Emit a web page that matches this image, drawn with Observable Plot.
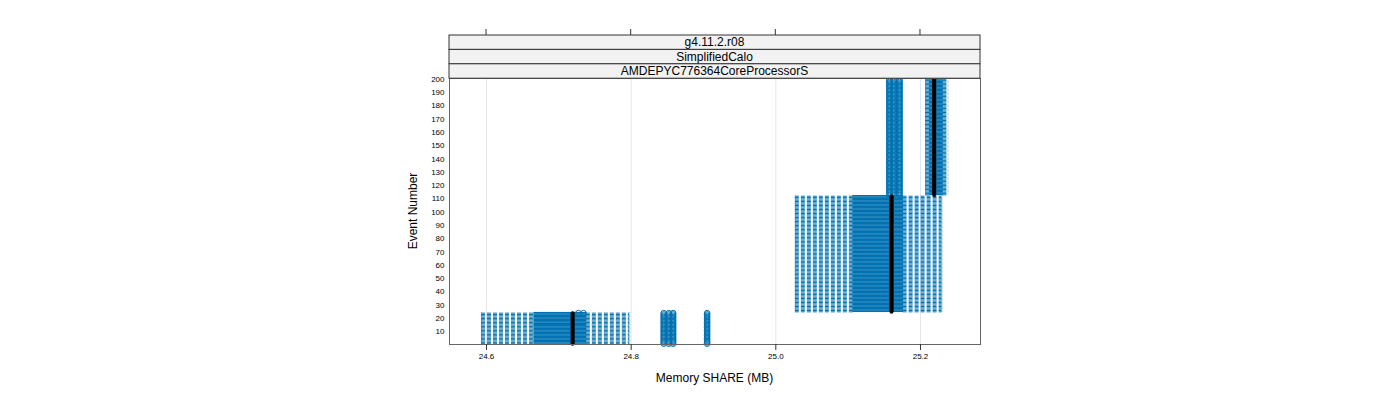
<!DOCTYPE html>
<html><head><meta charset="utf-8">
<script src="https://cdn.jsdelivr.net/npm/d3@7"></script>
<script src="https://cdn.jsdelivr.net/npm/@observablehq/plot@0.6"></script>
<style>
body{margin:0;background:#fff;}
#chart{width:1400px;height:400px;font-family:"Liberation Sans",Arial,sans-serif;}
</style>
</head><body><div id="chart"></div>
<script>
// ---- data ----
const stripLabels = ["g4.11.2.r08", "SimplifiedCalo", "AMDEPYC776364CoreProcessorS"];
const groupFirst = [1, 25, 113];
const groupLast = [24, 112, 200];
const whiskerLo = [24.593, 25.027, 25.207];
const q1 = [24.666, 25.107, 25.213];
const median = [24.719, 25.160, 25.219];
const q3 = [24.738, 25.176, 25.231];
const whiskerHi = [24.798, 25.230, 25.238];
// outliers: value shared by a range of events
const outFirst = [1, 1, 1, 1, 24, 24, 113, 113, 113];
const outLast = [24, 24, 24, 24, 24, 24, 200, 200, 200];
const outValue = [24.845, 24.852, 24.858, 24.905, 24.727, 24.734, 25.157, 25.163, 25.171];
const xTicks = [24.6, 24.8, 25.0, 25.2];
const yTicks = [10, 20, 30, 40, 50, 60, 70, 80, 90, 100, 110, 120, 130, 140, 150, 160, 170, 180, 190, 200];
const xLabel = "Memory SHARE (MB)";
const yLabel = "Event Number";

const blue = "#0072B2";

// build per-event rows
const rows = [];
groupFirst.forEach((f, g) => {
  for (let e = f; e <= groupLast[g]; e++) {
    rows.push({event: e, lo: whiskerLo[g], q1: q1[g], med: median[g], q3: q3[g], hi: whiskerHi[g]});
  }
});
const outs = [];
outValue.forEach((v, i) => {
  for (let e = outFirst[i]; e <= outLast[i]; e++) outs.push({event: e, value: v});
});

const hb = 0.25; // half box height (event units)
const plot = Plot.plot({
  width: 1400, height: 400,
  marginLeft: 449, marginRight: 420, marginTop: 78, marginBottom: 56,
  style: {fontFamily: '"Liberation Sans", Arial, sans-serif', color: "#000", background: "#fff"},
  x: {domain: [24.5488, 25.283], label: null},
  y: {domain: [0.4, 200.6], label: null},
  marks: [
    Plot.gridX(xTicks, {stroke: "#e6e6e6", strokeOpacity: 1}),
    // whiskers
    Plot.ruleY(rows, {y: "event", x1: "lo", x2: "q1", stroke: blue, strokeWidth: 1, strokeDasharray: "4,2"}),
    Plot.ruleY(rows, {y: "event", x1: "q3", x2: "hi", stroke: blue, strokeWidth: 1, strokeDasharray: "4,2"}),
    Plot.ruleX(rows, {x: "lo", y1: d => d.event - hb / 2, y2: d => d.event + hb / 2, stroke: blue}),
    Plot.ruleX(rows, {x: "hi", y1: d => d.event - hb / 2, y2: d => d.event + hb / 2, stroke: blue}),
    // boxes
    Plot.rect(rows, {x1: "q1", x2: "q3", y1: d => d.event - hb, y2: d => d.event + hb, fill: blue, fillOpacity: 0.6, stroke: blue, strokeWidth: 0.8}),
    // outliers
    Plot.dot(outs, {x: "value", y: "event", r: 2.8, stroke: blue, strokeWidth: 1, fill: "none"}),
    // medians
    Plot.dot(rows, {x: "med", y: "event", r: 2, fill: "#000", stroke: "none"}),
    Plot.frame({stroke: "#666"}),
    Plot.axisX(xTicks, {tickSize: 6, tickPadding: 3, fontSize: 8, tickFormat: d3.format(".1f"), stroke: "#333", label: null}),
    Plot.axisY(yTicks, {tickSize: 0, tickPadding: 5, fontSize: 8, label: null})
  ]
});
document.getElementById("chart").appendChild(plot);

// decorations using the plot's scales
const xs = plot.scale("x");
const svg = d3.select(plot);
const [px0, px1] = [xs.apply(24.5488), xs.apply(25.283)];
// top ticks
xTicks.forEach(t => {
  svg.append("line").attr("x1", xs.apply(t)).attr("x2", xs.apply(t)).attr("y1", 29).attr("y2", 35)
    .attr("stroke", "#333").attr("stroke-width", 1);
});
// strips
const stripTop = 35, stripH = 14.4;
stripLabels.forEach((s, i) => {
  const y0 = stripTop + i * stripH;
  svg.append("rect").attr("x", px0).attr("y", y0).attr("width", px1 - px0).attr("height", stripH)
    .attr("fill", "#f2f2f2").attr("stroke", "#333").attr("stroke-width", 1);
  svg.append("text").attr("x", (px0 + px1) / 2).attr("y", y0 + stripH / 2 + 4.2)
    .attr("text-anchor", "middle").attr("font-size", 12).attr("fill", "#000").text(s);
});
// axis titles
svg.append("text").attr("x", (px0 + px1) / 2).attr("y", 382).attr("text-anchor", "middle")
  .attr("font-size", 12).attr("fill", "#000").text(xLabel);
svg.append("text").attr("transform", `translate(417,211) rotate(-90)`).attr("text-anchor", "middle")
  .attr("font-size", 12).attr("fill", "#000").text(yLabel);
</script>
</body></html>
